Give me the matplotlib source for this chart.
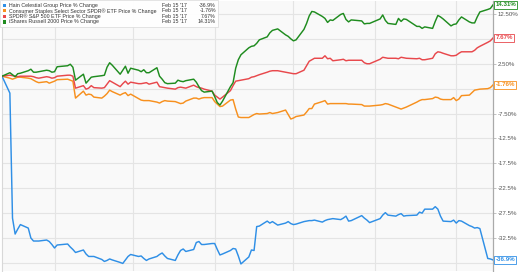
import matplotlib
matplotlib.use("Agg")
import matplotlib.pyplot as plt
import matplotlib.dates as mdates
from matplotlib.patches import Rectangle
import pandas as pd

plt.rcParams["font.family"] = ["Liberation Sans", "DejaVu Sans"]

# ---------------- data ----------------
holidays = ["2016-09-05", "2016-11-24", "2016-12-26", "2017-01-02", "2017-01-16"]
dates = pd.bdate_range("2016-08-12", "2017-02-15", freq="C", holidays=holidays)

series_names = [
    "Hain Celestial Group Price % Change",
    "Consumer Staples Select Sector SPDR\u00ae ETF Price % Change",
    "SPDR\u00ae S&P 500 ETF Price % Change",
    "iShares Russell 2000 Price % Change",
]
end_date_label = "Feb 15 '17"
end_labels = ["-36.9%", "-1.76%", "7.67%", "14.31%"]

hain = [0, -3.4, -28.5, -31.7, -30.7, -29.8, -30.5, -32.5, -33.1, -33.1, -33.1, -32.9, -33.2, -33.8,
        -34.5, -33.9, -33.7, -34.3, -34.8, -35.4, -34.9, -35.7, -36.2, -36.2, -36.2, -36.8, -37.2, -37.0, -36.7, -36.9, -37.4, -37.6, -36.9, -36.2, -35.8,
        -36.2, -36.1, -36.6, -37.0, -36.7, -36.2, -35.8, -35.5, -36.1, -36.6, -37.0, -35.9, -35.0, -34.7, -35.2, -34.8, -33.4, -33.2, -33.8, -33.8, -33.6,
        -33.6, -34.8, -35.9, -35.7, -35.0, -34.6, -34.7, -36.1, -37.7, -36.3, -34.9, -35.0, -30.2, -30.1, -29.1, -29.5, -29.2, -29.9, -29.5, -29.2, -29.6,
        -29.8, -29.7, -29.2, -29.1, -29.0, -29.0, -28.9, -29.3, -29.0, -28.8, -28.7, -28.6, -28.8, -28.5, -28.1, -29.1, -29.0, -28.0, -28.5, -28.9, -29.4,
        -28.6, -27.9, -27.4, -27.9, -28.1, -27.8, -27.6, -28.1, -28.0, -27.9, -27.3, -27.5, -26.7, -26.7, -26.2, -26.7, -28.1, -29.1, -29.2, -28.9,
        -29.5, -29.0, -29.1, -30.0, -30.2, -30.5, -30.4, -30.6, -36.6, -36.7, -36.9]

xlp = [0, -0.4, -0.6, -0.4, -0.2, -0.2, -0.4, -0.5, -0.8, -1.1, -1.3, -1.1, -1.4, -1.2,
       -1.0, -0.7, -0.6, -0.8, -1.0, -4.4, -3.0, -3.8, -3.6, -3.7, -4.2, -4.4, -4.0, -3.5, -2.8, -3.1, -3.8, -3.5, -3.3, -3.9, -3.6,
       -4.5, -4.8, -4.9, -4.9, -4.9, -5.2, -5.4, -5.1, -4.9, -5.0, -5.1, -5.3, -5.5, -5.4, -5.0, -4.4, -4.4, -4.6, -4.4, -4.3, -4.3,
       -5.1, -5.6, -6.1, -6.0, -4.8, -4.7, -6.6, -8.2, -8.3, -8.3, -8.0, -7.7, -7.5, -7.6, -7.5, -7.3, -7.5, -7.3, -6.8, -7.7, -8.6,
       -8.4, -8.1, -7.8, -7.2, -6.5, -6.5, -5.6, -5.1, -4.9, -5.6, -5.5, -5.5, -5.5, -5.5, -5.5, -5.6, -5.6, -5.7, -6.0, -6.0, -6.0,
       -5.8, -5.7, -5.5, -5.6, -6.2, -6.4, -6.6, -6.4, -6.2, -5.2, -4.9, -4.7, -4.7, -4.5, -4.2, -4.3, -4.6, -4.7, -4.7, -4.3,
       -4.9, -4.6, -3.9, -3.8, -3.3, -2.8, -2.7, -2.6, -2.5, -2.3, -1.76]

spy = [0, 0.2, 0.1, 0.0, -0.1, 0.0, 0.0, 0.0, -0.1, -0.3, -0.4, -0.1, -0.2, -0.4,
       -0.3, 0.0, 0.2, 0.2, 0.0, -2.4, -1.9, -2.6, -2.4, -1.9, -2.3, -2.4, -2.3, -1.6, -0.9, -1.2, -2.1, -1.5, -1.0, -1.6, -1.2,
       -1.5, -1.5, -1.4, -1.3, -1.6, -1.2, -2.1, -2.2, -2.3, -2.4, -2.6, -2.3, -2.2, -2.3, -2.4, -1.8, -2.1, -2.3, -2.4, -2.6, -3.0,
       -3.8, -4.2, -4.6, -4.2, -2.9, -1.9, -1.0, -0.9, -0.8, -0.5, -0.2, -0.1, 0.1, 0.3, 0.8, 1.0, 1.1, 1.1, 0.8, 0.7, 0.6,
       0.5, 0.5, 1.2, 2.1, 3.0, 3.3, 3.6, 3.6, 4.1, 3.5, 3.6, 3.1, 3.3, 3.4, 3.1, 3.2, 3.2, 3.2, 2.7, 2.5, 2.5,
       3.4, 3.8, 3.7, 3.6, 3.6, 3.5, 3.8, 3.7, 3.6, 3.5, 3.6, 3.3, 3.3, 3.6, 4.5, 4.9, 4.8, 4.6, 4.1, 4.1,
       4.2, 4.6, 4.9, 4.9, 4.9, 5.2, 5.7, 6.0, 6.8, 7.1, 7.67]

iwm = [0, 0.7, 0.3, -0.1, 0.5, 0.6, 1.1, 1.4, 0.8, 0.8, 0.9, 1.2, 1.1, 0.8,
       0.9, 1.9, 2.1, 2.4, 1.8, -0.8, 0.4, -1.4, -0.8, -0.2, -0.1, 0.1, 0.2, 1.8, 2.7, 2.2, 0.4, 1.2, 2.0, 0.6, 1.6,
       1.2, 0.9, 1.3, 0.7, 0.7, 1.7, 0.0, -0.6, -1.3, -1.5, -1.4, -0.8, -1.0, -1.1, -0.9, -0.6, -1.2, -2.1, -2.9, -3.2, -3.0,
       -4.1, -5.3, -5.8, -5.0, -2.1, -1.3, 1.6, 3.3, 4.3, 5.7, 6.0, 6.1, 6.6, 7.3, 7.9, 8.7, 9.2, 9.5, 8.3, 8.0, 7.5,
       7.1, 7.3, 9.4, 10.6, 12.1, 13.0, 12.9, 12.0, 11.6, 10.8, 11.3, 11.2, 12.4, 12.6, 11.4, 10.9, 11.3, 11.1, 10.5, 10.6, 10.6,
       11.5, 12.3, 11.2, 10.6, 10.4, 11.6, 11.0, 11.5, 11.4, 10.0, 10.0, 9.6, 9.9, 9.6, 11.0, 12.2, 11.9, 11.5, 10.1, 10.4,
       10.5, 11.3, 11.9, 10.9, 10.7, 10.7, 11.9, 12.9, 13.4, 13.6, 14.31]

ytick_values = [12.5, 7.5, 2.5, -2.5, -7.5, -12.5, -17.5, -22.5, -27.5, -32.5, -37.5]
ytick_labels = ["12.50%", "", "2.50%", "", "-7.50%", "-12.5%", "-17.5%", "-22.5%", "-27.5%", "-32.5%", ""]

colors = ["#2f8fe6", "#f7901e", "#e8484c", "#1f8c1f"]
all_series = [hain, xlp, spy, iwm]

# ---------------- figure ----------------
W, H = 520, 272
fig = plt.figure(figsize=(W / 100, H / 100), dpi=100)
fig.patch.set_facecolor("white")
ax = fig.add_axes([2 / W, 1 / H, 491 / W, 270 / H])
ax.set_facecolor("#f9f9f9")

for vals, c in zip(all_series, colors):
    ax.plot(dates, vals, color=c, lw=1.05, solid_joinstyle="round", zorder=3)

ax.set_xlim(dates[0], dates[-1])
ax.set_ylim(-39.12, 15.1)

ax.xaxis.set_major_locator(mdates.MonthLocator())
ax.tick_params(axis="x", length=0, labelbottom=False)
ax.set_yticks(ytick_values)
ax.set_yticklabels(ytick_labels)
ax.yaxis.tick_right()
ax.tick_params(axis="y", length=2, width=0.5, color="#aaaaaa", pad=1.5,
               labelsize=4.4, labelcolor="#555555")
ax.grid(True, color="#e4e4e4", lw=0.8, zorder=0)

for s in ["top", "bottom"]:
    ax.spines[s].set_visible(False)
ax.spines["left"].set_color("#d8d8d8")
ax.spines["left"].set_linewidth(0.8)
ax.spines["right"].set_color("#aaaaaa")
ax.spines["right"].set_linewidth(0.9)

# end-value labels
for vals, c, lab in zip(all_series, colors, end_labels):
    ax.annotate(lab, xy=(dates[-1], vals[-1]), xytext=(1.8, 0), textcoords="offset points",
                ha="left", va="center", fontsize=4.4, fontweight="bold", color=c,
                annotation_clip=False, zorder=6,
                bbox=dict(boxstyle="square,pad=0.2", fc="white", ec=c, lw=0.6))

# legend box (top-left)
fig.patches.append(Rectangle((0, 1 - 27 / H), 218 / W, 27 / H, transform=fig.transFigure,
                             facecolor="white", edgecolor="#dddddd", lw=0.6, alpha=0.95, zorder=5))
row_y = [5.2, 10.8, 16.3, 21.9]
for i, (name, c, lab) in enumerate(zip(series_names, colors, end_labels)):
    yy = 1 - row_y[i] / H
    fig.patches.append(Rectangle((2.5 / W, yy - 1.6 / H), 3.3 / W, 3.3 / H, transform=fig.transFigure,
                                 facecolor=c, edgecolor="none", zorder=6))
    fig.text(9 / W, yy, name, fontsize=3.75, color="#333333", va="center", ha="left", zorder=7)
    fig.text(162 / W, yy, end_date_label, fontsize=3.75, color="#333333", va="center", ha="left", zorder=7)
    fig.text(216 / W, yy, lab, fontsize=3.75, color="#333333", va="center", ha="right", zorder=7)

fig.savefig("out.png", dpi=100, facecolor="white")
